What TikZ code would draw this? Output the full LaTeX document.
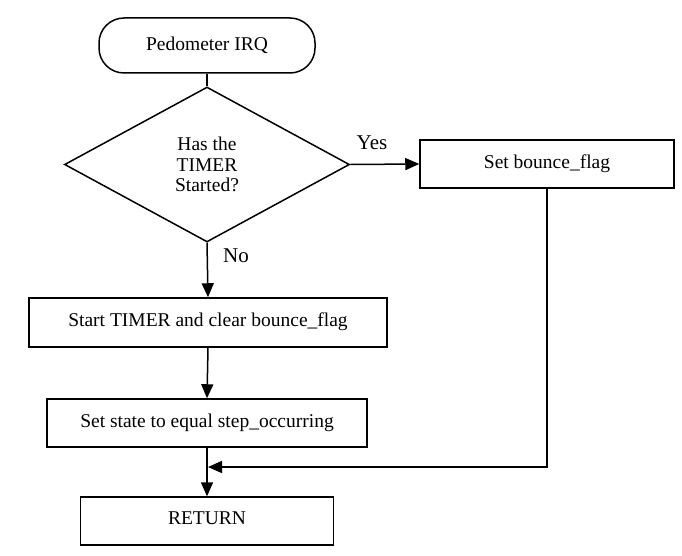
\documentclass[tikz,border=0pt]{standalone}
\usepackage{fontspec}
\setmainfont{Liberation Serif}
\usetikzlibrary{shapes.geometric,arrows.meta}
\begin{document}
\begin{tikzpicture}[x=1pt,y=-1pt,line width=1.5pt,
  txt/.style={font=\fontsize{19.5}{20.5}\selectfont},
  box/.style={draw,rectangle,inner sep=0pt,txt},
  lbl/.style={inner sep=0pt,font=\fontsize{21}{23}\selectfont},
  arr/.style={-{Triangle[length=14pt,width=12pt]}}]
\useasboundingbox[fill=white] (0,0) rectangle (682,556);
\node[box,rounded corners=25pt,minimum width=216pt,minimum height=55pt] (start) at (207,45.5) {Pedometer IRQ};
\node[draw,diamond,inner sep=0pt,minimum width=285pt,minimum height=155pt,align=center,txt] (dec) at (207,164.5) {Has the\\TIMER\\Started?};
\node[box,minimum width=254pt,minimum height=48pt,text depth=5pt] (bounce) at (547,164) {Set bounce\_flag};
\node[box,minimum width=358pt,minimum height=49pt,text depth=5pt] (timer) at (208,322.5) {Start TIMER and clear bounce\_flag};
\node[box,minimum width=320pt,minimum height=48pt,text depth=5pt] (state) at (207,423) {Set state to equal step\_occurring};
\node[box,minimum width=253pt,minimum height=48pt,text depth=5pt] (ret) at (207,521) {RETURN};
\node[lbl] (yes) at (372,143) {Yes};
\node[lbl] (no) at (236,256) {No};
\coordinate (m) at (208,467);
\draw (start.south) -- (dec.north);
\draw[arr] (dec.east) -- (bounce.west);
\draw[arr] (dec.south) -- (timer.north);
\draw[arr] (timer.south) -- (state.north);
\draw[arr] (state.south) -- (ret.north);
\draw[arr] (bounce.south) |- (m);
\end{tikzpicture}
\end{document}
